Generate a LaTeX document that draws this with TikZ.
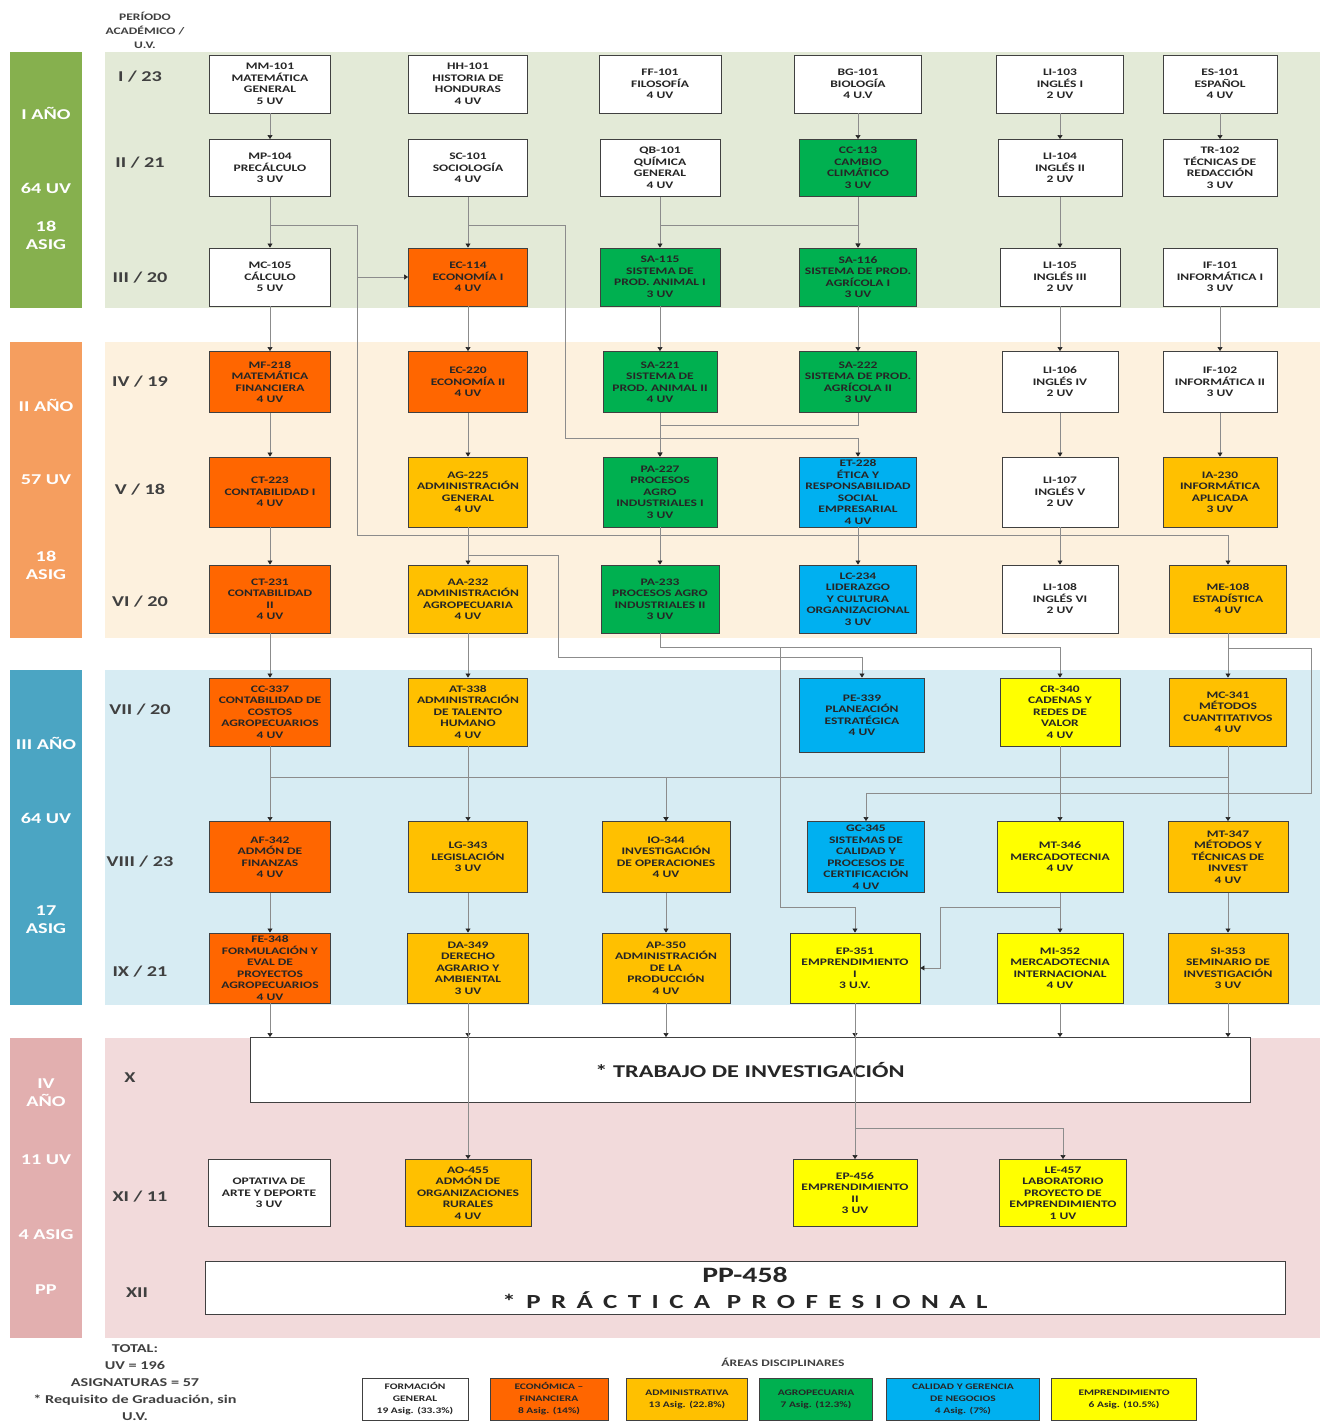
\documentclass[tikz,border=0pt]{standalone}
\usepackage{fontspec}
\setmainfont{Carlito}[FakeStretch=1.35]
\usepackage{tikz}
\usetikzlibrary{arrows.meta,positioning}

\definecolor{yrAbar}{RGB}{134,176,78}
\definecolor{yrAbg}{RGB}{227,234,215}
\definecolor{yrBbar}{RGB}{245,158,95}
\definecolor{yrBbg}{RGB}{253,241,222}
\definecolor{yrCbar}{RGB}{75,165,195}
\definecolor{yrCbg}{RGB}{215,236,243}
\definecolor{yrDbar}{RGB}{226,175,175}
\definecolor{yrDbg}{RGB}{242,218,219}
\definecolor{ecofin}{RGB}{255,102,0}
\definecolor{adminis}{RGB}{255,192,0}
\definecolor{agrocol}{RGB}{0,176,80}
\definecolor{calidad}{RGB}{0,176,240}
\definecolor{emprende}{RGB}{255,255,0}

\begin{document}
\begin{tikzpicture}[x=1pt,y=-1pt,
	course/.style={draw=black!75,line width=0.9pt,align=center,inner sep=1pt,
		font=\bfseries\fontsize{10}{11.5}\selectfont,text=black!85},
	sz/.style 2 args={minimum width=#1pt,minimum height=#2pt},
	wgen/.style={course,fill=white},
	ecof/.style={course,fill=ecofin},
	admi/.style={course,fill=adminis},
	agro/.style={course,fill=agrocol},
	cali/.style={course,fill=calidad},
	empr/.style={course,fill=emprende},
	conn/.style={draw=black!45,line width=0.6pt,-{Triangle[width=5pt,length=4pt,color=black!85]}},
	period/.style={font=\bfseries\fontsize{15}{17}\selectfont,text=black!75},
	yearlbl/.style={font=\bfseries\fontsize{15}{18}\selectfont,text=white,align=center},
	legend/.style={course,font=\bfseries\fontsize{8.5}{12}\selectfont,minimum height=42pt}]
	\useasboundingbox (0,0) rectangle (1322,1422);

	% ---------------- Bands ----------------
	\fill[yrAbg] (105,52) rectangle (1320,308);
	\fill[yrAbar] (10,52) rectangle (82,308);
	\fill[yrBbg] (105,342) rectangle (1320,638);
	\fill[yrBbar] (10,342) rectangle (82,638);
	\fill[yrCbg] (105,670) rectangle (1320,1005);
	\fill[yrCbar] (10,670) rectangle (82,1005);
	\fill[yrDbg] (105,1038) rectangle (1320,1338);
	\fill[yrDbar] (10,1038) rectangle (82,1338);

	% Year labels
	\node[yearlbl] (YA1) at (46,113) {I AÑO};
	\node[yearlbl] (YA2) at (46,188) {64 UV};
	\node[yearlbl] (YA3) at (46,235) {18\\ASIG};
	\node[yearlbl] (YB1) at (46,405) {II AÑO};
	\node[yearlbl] (YB2) at (46,480) {57 UV};
	\node[yearlbl] (YB3) at (46,565) {18\\ASIG};
	\node[yearlbl] (YC1) at (46,743) {III AÑO};
	\node[yearlbl] (YC2) at (46,818) {64 UV};
	\node[yearlbl] (YC3) at (46,920) {17\\ASIG};
	\node[yearlbl] (YD1) at (46,1093) {IV\\AÑO};
	\node[yearlbl] (YD2) at (46,1160) {11 UV};
	\node[yearlbl] (YD3) at (46,1235) {4 ASIG};
	\node[yearlbl] (YD4) at (46,1290) {PP};

	% Periods
	\node[align=center,font=\bfseries\fontsize{10}{14}\selectfont,text=black!75] (hdr) at (145,30) {PERÍODO\\ACADÉMICO /\\U.V.};
	\node[period] (P1) at (140,77) {I / 23};
	\node[period] (P2) at (140,163) {II / 21};
	\node[period] (P3) at (140,278) {III / 20};
	\node[period] (P4) at (140,382) {IV / 19};
	\node[period] (P5) at (140,490) {V / 18};
	\node[period] (P6) at (140,602) {VI / 20};
	\node[period] (P7) at (140,710) {VII / 20};
	\node[period] (P8) at (140,862) {VIII / 23};
	\node[period] (P9) at (140,972) {IX / 21};
	\node[period] (P10) at (130,1078) {X};
	\node[period] (P11) at (140,1197) {XI / 11};
	\node[period] (P12) at (137,1293) {XII};

	% ---------------- Courses ----------------
	% Row I
	\node[wgen,sz={121}{58}] (MM101) at (270,84) {MM-101\\MATEMÁTICA\\GENERAL\\5 UV};
	\node[wgen,sz={119}{58}] (HH101) at (468,84) {HH-101\\HISTORIA DE\\HONDURAS\\4 UV};
	\node[wgen,sz={122}{58}] (FF101) at (660,84) {FF-101\\FILOSOFÍA\\4 UV};
	\node[wgen,sz={127}{58}] (BG101) at (858,84) {BG-101\\BIOLOGÍA\\4 U.V};
	\node[wgen,sz={127}{58}] (LI103) at (1060,84) {LI-103\\INGLÉS I\\2 UV};
	\node[wgen,sz={114}{58}] (ES101) at (1220,84) {ES-101\\ESPAÑOL\\4 UV};
	% Row II
	\node[wgen,sz={121}{57}] (MP104) at (270,168) {MP-104\\PRECÁLCULO\\3 UV};
	\node[wgen,sz={119}{57}] (SC101) at (468,168) {SC-101\\SOCIOLOGÍA\\4 UV};
	\node[wgen,sz={120}{57}] (QB101) at (660,168) {QB-101\\QUÍMICA\\GENERAL\\4 UV};
	\node[agro,sz={117}{57}] (CC113) at (858,168) {CC-113\\CAMBIO\\CLIMÁTICO\\3 UV};
	\node[wgen,sz={124}{57}] (LI104) at (1060,168) {LI-104\\INGLÉS II\\2 UV};
	\node[wgen,sz={114}{57}] (TR102) at (1220,168) {TR-102\\TÉCNICAS DE\\REDACCIÓN\\3 UV};
	% Row III
	\node[wgen,sz={121}{58}] (MC105) at (270,277) {MC-105\\CÁLCULO\\5 UV};
	\node[ecof,sz={119}{58}] (EC114) at (468,277) {EC-114\\ECONOMÍA I\\4 UV};
	\node[agro,sz={120}{58}] (SA115) at (660,277) {SA-115\\SISTEMA DE\\PROD. ANIMAL I\\3 UV};
	\node[agro,sz={117}{58}] (SA116) at (858,277) {SA-116\\SISTEMA DE PROD.\\AGRÍCOLA I\\3 UV};
	\node[wgen,sz={120}{58}] (LI105) at (1060,277) {LI-105\\INGLÉS III\\2 UV};
	\node[wgen,sz={114}{58}] (IF101) at (1220,277) {IF-101\\INFORMÁTICA I\\3 UV};
	% Row IV
	\node[ecof,sz={121}{61}] (MF218) at (270,382) {MF-218\\MATEMÁTICA\\FINANCIERA\\4 UV};
	\node[ecof,sz={119}{61}] (EC220) at (468,382) {EC-220\\ECONOMÍA II\\4 UV};
	\node[agro,sz={114}{61}] (SA221) at (660,382) {SA-221\\SISTEMA DE\\PROD. ANIMAL II\\4 UV};
	\node[agro,sz={117}{61}] (SA222) at (858,382) {SA-222\\SISTEMA DE PROD.\\AGRÍCOLA II\\3 UV};
	\node[wgen,sz={116}{61}] (LI106) at (1060,382) {LI-106\\INGLÉS IV\\2 UV};
	\node[wgen,sz={114}{61}] (IF102) at (1220,382) {IF-102\\INFORMÁTICA II\\3 UV};
	% Row V
	\node[ecof,sz={121}{70}] (CT223) at (270,492) {CT-223\\CONTABILIDAD I\\4 UV};
	\node[admi,sz={119}{70}] (AG225) at (468,492) {AG-225\\ADMINISTRACIÓN\\GENERAL\\4 UV};
	\node[agro,sz={114}{70}] (PA227) at (660,492) {PA-227\\PROCESOS\\AGRO\\INDUSTRIALES I\\3 UV};
	\node[cali,sz={117}{70}] (ET228) at (858,492) {ET-228\\ÉTICA Y\\RESPONSABILIDAD\\SOCIAL\\EMPRESARIAL\\4 UV};
	\node[wgen,sz={116}{70}] (LI107) at (1060,492) {LI-107\\INGLÉS V\\2 UV};
	\node[admi,sz={114}{70}] (IA230) at (1220,492) {IA-230\\INFORMÁTICA\\APLICADA\\3 UV};
	% Row VI
	\node[ecof,sz={121}{68}] (CT231) at (270,599) {CT-231\\CONTABILIDAD\\II\\4 UV};
	\node[admi,sz={119}{68}] (AA232) at (468,599) {AA-232\\ADMINISTRACIÓN\\AGROPECUARIA\\4 UV};
	\node[agro,sz={118}{68}] (PA233) at (660,599) {PA-233\\PROCESOS AGRO\\INDUSTRIALES II\\3 UV};
	\node[cali,sz={117}{68}] (LC234) at (858,599) {LC-234\\LIDERAZGO\\Y CULTURA\\ORGANIZACIONAL\\3 UV};
	\node[wgen,sz={116}{68}] (LI108) at (1060,599) {LI-108\\INGLÉS VI\\2 UV};
	\node[admi,sz={117}{68}] (ME108) at (1228,599) {ME-108\\ESTADÍSTICA\\4 UV};
	% Row VII
	\node[ecof,sz={121}{68}] (CC337) at (270,712) {CC-337\\CONTABILIDAD DE\\COSTOS\\AGROPECUARIOS\\4 UV};
	\node[admi,sz={119}{68}] (AT338) at (468,712) {AT-338\\ADMINISTRACIÓN\\DE TALENTO\\HUMANO\\4 UV};
	\node[cali,sz={125}{74}] (PE339) at (862,715) {PE-339\\PLANEACIÓN\\ESTRATÉGICA\\4 UV};
	\node[empr,sz={120}{68}] (CR340) at (1060,712) {CR-340\\CADENAS Y\\REDES DE\\VALOR\\4 UV};
	\node[admi,sz={117}{68}] (MC341) at (1228,712) {MC-341\\MÉTODOS\\CUANTITATIVOS\\4 UV};
	% Row VIII
	\node[ecof,sz={121}{71}] (AF342) at (270,857) {AF-342\\ADMÓN DE\\FINANZAS\\4 UV};
	\node[admi,sz={119}{71}] (LG343) at (468,857) {LG-343\\LEGISLACIÓN\\3 UV};
	\node[admi,sz={128}{71}] (IO344) at (666,857) {IO-344\\INVESTIGACIÓN\\DE OPERACIONES\\4 UV};
	\node[cali,sz={117}{71}] (GC345) at (866,857) {GC-345\\SISTEMAS DE\\CALIDAD Y\\PROCESOS DE\\CERTIFICACIÓN\\4 UV};
	\node[empr,sz={126}{71}] (MT346) at (1060,857) {MT-346\\MERCADOTECNIA\\4 UV};
	\node[admi,sz={120}{71}] (MT347) at (1228,857) {MT-347\\MÉTODOS Y\\TÉCNICAS DE\\INVEST\\4 UV};
	% Row IX
	\node[ecof,sz={121}{70}] (FE348) at (270,968) {FE-348\\FORMULACIÓN Y\\EVAL DE\\PROYECTOS\\AGROPECUARIOS\\4 UV};
	\node[admi,sz={121}{70}] (DA349) at (468,968) {DA-349\\DERECHO\\AGRARIO Y\\AMBIENTAL\\3 UV};
	\node[admi,sz={128}{70}] (AP350) at (666,968) {AP-350\\ADMINISTRACIÓN\\DE LA\\PRODUCCIÓN\\4 UV};
	\node[empr,sz={130}{70}] (EP351) at (855,968) {EP-351\\EMPRENDIMIENTO\\I\\3 U.V.};
	\node[empr,sz={126}{70}] (MI352) at (1060,968) {MI-352\\MERCADOTECNIA\\INTERNACIONAL\\4 UV};
	\node[admi,sz={120}{70}] (SI353) at (1228,968) {SI-353\\SEMINARIO DE\\INVESTIGACIÓN\\3 UV};
	% Row X
	\node[wgen,sz={1000}{65},font=\bfseries\fontsize{18}{20}\selectfont] (TI) at (750,1070) {* TRABAJO DE INVESTIGACIÓN};
	% Row XI
	\node[wgen,sz={122}{67}] (OPT) at (269,1193) {OPTATIVA DE\\ARTE Y DEPORTE\\3 UV};
	\node[admi,sz={126}{67}] (AO455) at (468,1193) {AO-455\\ADMÓN DE\\ORGANIZACIONES\\RURALES\\4 UV};
	\node[empr,sz={124}{67}] (EP456) at (855,1193) {EP-456\\EMPRENDIMIENTO\\II\\3 UV};
	\node[empr,sz={127}{67}] (LE457) at (1063,1193) {LE-457\\LABORATORIO\\PROYECTO DE\\EMPRENDIMIENTO\\1 UV};
	% Row XII
	\node[wgen,sz={1080}{53},font=\bfseries\fontsize{20}{26}\selectfont] (PP) at (745,1288)
		{{\fontsize{22}{24}\selectfont PP-458}\\{\addfontfeatures{LetterSpace=52}*PRÁCTICA PROFESIONAL}};

	% ---------------- Edges ----------------
	\draw[conn] (MM101) -- (MP104);
	\draw[conn] (MP104) -- (MC105);
	\draw[conn] (MP104.south) |- (357,225) |- (EC114.west);
	\draw[conn] (MP104.south) |- (357,225) |- (1228,535) -- (ME108.north);
	\draw[conn] (SC101) -- (EC114);
	\draw[conn] (SC101.south) |- (565,225) |- (858,438) -- (ET228.north);
	\draw[conn] (QB101) -- (SA115);
	\draw[conn] (BG101) -- (CC113);
	\draw[conn] (CC113) -- (SA116);
	\draw[conn] (QB101.south) |- (858,225) -- (SA116.north);
	\draw[conn] (LI103) -- (LI104);
	\draw[conn] (LI104) -- (LI105);
	\draw[conn] (ES101) -- (TR102);

	\draw[conn] (MC105) -- (MF218);
	\draw[conn] (EC114) -- (EC220);
	\draw[conn] (SA115) -- (SA221);
	\draw[conn] (SA116) -- (SA222);
	\draw[conn] (LI105) -- (LI106);
	\draw[conn] (IF101) -- (IF102);

	\draw[conn] (MF218) -- (CT223);
	\draw[conn] (EC220) -- (AG225);
	\draw[conn] (SA221) -- (PA227);
	\draw[conn] (SA222.south) |- (660,425) -- (PA227.north);
	\draw[conn] (LI106) -- (LI107);
	\draw[conn] (IF102) -- (IA230);

	\draw[conn] (CT223) -- (CT231);
	\draw[conn] (AG225) -- (AA232);
	\draw[conn] (PA227) -- (PA233);
	\draw[conn] (ET228) -- (LC234);
	\draw[conn] (LI107) -- (LI108);
	\draw[conn] (AG225.south) |- (558,555) |- (862,657) -- (PE339.north);

	\draw[conn] (CT231) -- (CC337);
	\draw[conn] (AA232) -- (AT338);
	\draw[conn] (PA233.south) |- (1060,647) -- (CR340.north);
	\draw[conn] (PA233.south) |- (780,647) |- (855,907) -- (EP351.north);
	\draw[conn] (ME108) -- (MC341);
	\draw[conn] (ME108.south) |- (1311,648) |- (866,793) -- (GC345.north);

	\draw[conn] (CC337) -- (AF342);
	\draw[conn] (AT338) -- (LG343);
	\draw[conn] (CC337.south) |- (666,777) -- (IO344.north);
	\draw[conn] (MC341.south) |- (666,777) -- (IO344.north);
	\draw[conn] (CR340) -- (MT346);
	\draw[conn] (MC341) -- (MT347);

	\draw[conn] (AF342) -- (FE348);
	\draw[conn] (LG343) -- (DA349);
	\draw[conn] (IO344) -- (AP350);
	\draw[conn] (MT346) -- (MI352);
	\draw[conn] (MT346.south) |- (940,907) |- (EP351.east);
	\draw[conn] (MT347) -- (SI353);

	\draw[conn] (FE348.south) -- (FE348.south |- TI.north);
	\draw[conn] (DA349.south) -- (DA349.south |- TI.north);
	\draw[conn] (AP350.south) -- (AP350.south |- TI.north);
	\draw[conn] (EP351.south) -- (EP351.south |- TI.north);
	\draw[conn] (MI352.south) -- (MI352.south |- TI.north);
	\draw[conn] (SI353.south) -- (SI353.south |- TI.north);

	\draw[conn] (DA349.south) -- (AO455.north);
	\draw[conn] (EP351.south) -- (EP456.north);
	\draw[conn] (EP351.south) |- (1063,1128) -- (LE457.north);

	% ---------------- Legend ----------------
	\node[align=center,font=\bfseries\fontsize{12}{17}\selectfont,text=black!75] (tot) at (135,1383)
		{TOTAL:\\UV = 196\\ASIGNATURAS = 57\\* Requisito de Graduación, sin\\U.V.};
	\node[font=\bfseries\fontsize{10}{12}\selectfont,text=black!75] (areas) at (783,1362) {ÁREAS DISCIPLINARES};
	\node[legend,fill=white,minimum width=106pt] (Lgen) at (415,1399) {FORMACIÓN\\GENERAL\\19 Asig. (33.3\%)};
	\node[legend,fill=ecofin,minimum width=118pt] (Leco) at (549,1399) {ECONÓMICA –\\FINANCIERA\\8 Asig. (14\%)};
	\node[legend,fill=adminis,minimum width=121pt] (Ladm) at (687,1399) {ADMINISTRATIVA\\13 Asig. (22.8\%)};
	\node[legend,fill=agrocol,minimum width=113pt] (Lagr) at (816,1399) {AGROPECUARIA\\7 Asig. (12.3\%)};
	\node[legend,fill=calidad,minimum width=153pt] (Lcal) at (963,1399) {CALIDAD Y GERENCIA\\DE NEGOCIOS\\4 Asig. (7\%)};
	\node[legend,fill=emprende,minimum width=145pt] (Lemp) at (1124,1399) {EMPRENDIMIENTO\\6 Asig. (10.5\%)};
\end{tikzpicture}
\end{document}
